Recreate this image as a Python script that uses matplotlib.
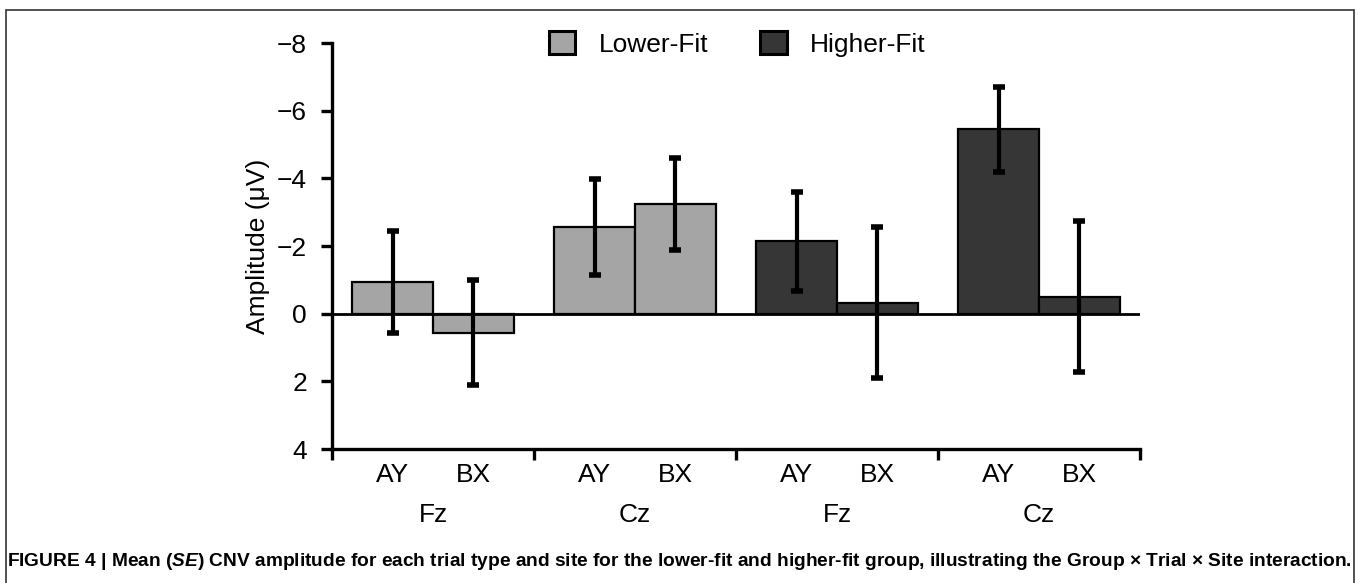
import numpy as np
import matplotlib.pyplot as plt
from matplotlib.patches import Rectangle

# mean CNV amplitude (uV), negative is up
sites = ["Fz", "Cz", "Fz", "Cz"]
trials = ["AY", "BX"]
lower_ay = [-0.93, -2.56]
lower_bx = [0.56, -3.24]
higher_ay = [-2.14, -5.45]
higher_bx = [-0.33, -0.50]
lower_ay_se = [1.50, 1.43]
lower_bx_se = [1.56, 1.35]
higher_ay_se = [1.47, 1.26]
higher_bx_se = [2.22, 2.23]

light = "#a5a5a5"
dark = "#363636"

plt.rcParams["font.family"] = ["Liberation Sans", "DejaVu Sans"]
plt.rcParams["mathtext.fontset"] = "custom"
plt.rcParams["mathtext.it"] = "Liberation Sans:italic:bold"
plt.rcParams["mathtext.rm"] = "Liberation Sans:bold"

fig = plt.figure(figsize=(13.58, 5.83), dpi=100)
ax = fig.add_axes([0.2445, 0.2298, 0.8395 - 0.2445, 0.9262 - 0.2298])

x = np.arange(4)
ay = lower_ay + higher_ay
bx = lower_bx + higher_bx
ay_se = lower_ay_se + higher_ay_se
bx_se = lower_bx_se + higher_bx_se
cols = [light, light, dark, dark]
w = 0.4

ax.bar(x - w / 2, ay, w, color=cols, edgecolor="black", linewidth=1.6, zorder=2)
ax.bar(x + w / 2, bx, w, color=cols, edgecolor="black", linewidth=1.6, zorder=2)
ax.errorbar(x - w / 2, ay, yerr=ay_se, fmt="none", ecolor="black",
            elinewidth=3, capsize=4.5, capthick=4, zorder=3)
ax.errorbar(x + w / 2, bx, yerr=bx_se, fmt="none", ecolor="black",
            elinewidth=3, capsize=4.5, capthick=4, zorder=3)
ax.axhline(0, color="black", linewidth=2, zorder=2.5)

ax.set_xlim(-0.5, 3.5)
ax.set_ylim(4, -8)
ax.set_yticks(np.arange(-8, 5, 2))
ax.set_yticklabels(["\u22128", "\u22126", "\u22124", "\u22122", "0", "2", "4"])
ax.set_xticks(np.arange(-0.5, 4, 1))
ax.set_xticklabels([])
for s in ["top", "right"]:
    ax.spines[s].set_visible(False)
for s in ["left", "bottom"]:
    ax.spines[s].set_linewidth(2.4)
ax.tick_params(axis="both", width=2.4, length=8, labelsize=19, direction="out")
ax.tick_params(axis="y", pad=10)
ax.set_ylabel("Amplitude (\u03bcV)", fontsize=19, labelpad=5)

# category labels under the axis
for i in range(4):
    for j, t in enumerate(trials):
        ax.text(i + (j - 0.5) * w, -0.064, t, transform=ax.get_xaxis_transform(),
                ha="center", va="center", fontsize=19)
    ax.text(i, -0.163, sites[i], transform=ax.get_xaxis_transform(),
            ha="center", va="center", fontsize=19)

# legend
handles = [Rectangle((0, 0), 1, 1, facecolor=light, edgecolor="black", linewidth=2.2),
           Rectangle((0, 0), 1, 1, facecolor=dark, edgecolor="black", linewidth=2.2)]
fig.legend(handles, ["Lower-Fit", "Higher-Fit"], loc="center", ncol=2,
           bbox_to_anchor=(0.543, 0.925), frameon=False, fontsize=19,
           handlelength=1.0, handleheight=1.0, columnspacing=1.95, handletextpad=0.9)

# figure frame and caption
fig.add_artist(Rectangle((6 / 1358, -0.1), 1348 / 1358, 1.1 - 10 / 583,
                         transform=fig.transFigure, fill=False,
                         edgecolor="#333333", linewidth=1.2))
fig.text(0.5, 1 - 562 / 583,
         "FIGURE 4 | Mean ($\\mathit{SE}$) CNV amplitude for each trial type and site for the lower-fit "
         "and higher-fit group, illustrating the Group \u00d7 Trial \u00d7 Site interaction.",
         ha="center", va="center", fontsize=13.8, fontweight="bold")

fig.savefig("out.png", dpi=100)
